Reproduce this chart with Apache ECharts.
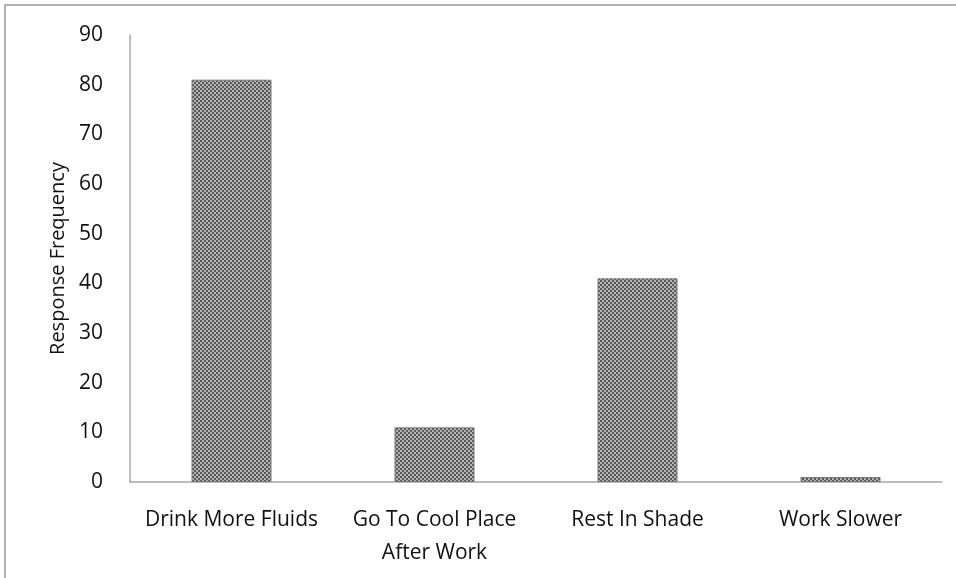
<!DOCTYPE html>
<html>
<head>
<meta charset="utf-8">
<script src="https://cdn.jsdelivr.net/npm/echarts@6/dist/echarts.min.js"></script>
<style>html,body{margin:0;background:#fff}#chart{width:956px;height:578px}</style>
</head>
<body>
<div id="chart"></div>
<script>
const categories = ['Drink More Fluids', 'Go To Cool Place\nAfter Work', 'Rest In Shade', 'Work Slower']
const values = [81, 11, 41, 1]

// checker pattern for the bars
const pat = document.createElement('canvas')
pat.width = 4
pat.height = 4
const ctx = pat.getContext('2d')
ctx.fillStyle = '#b4b4b4'
ctx.fillRect(0, 0, 4, 4)
ctx.fillStyle = '#5a5a5a'
ctx.fillRect(0, 0, 2, 2)
ctx.fillRect(2, 2, 2, 2)

const chart = echarts.init(document.getElementById('chart'))
chart.setOption({
  animation: false,
  textStyle: {fontFamily: 'Open Sans'},
  graphic: [{
    type: 'rect',
    shape: {x: 5, y: 5, width: 1000, height: 1000},
    style: {fill: 'none', stroke: '#999', lineWidth: 1.5}
  }],
  grid: {left: 130, right: 14, top: 35, bottom: 96},
  xAxis: {
    type: 'category',
    data: categories,
    axisLine: {lineStyle: {color: '#a6a6a6', width: 1.5}},
    axisTick: {show: false},
    axisLabel: {color: '#111', fontSize: 21, margin: 22, lineHeight: 33, interval: 0}
  },
  yAxis: {
    type: 'value',
    min: 0,
    max: 90,
    interval: 10,
    name: 'Response Frequency',
    nameLocation: 'middle',
    nameGap: 58,
    nameTextStyle: {color: '#111', fontSize: 20},
    axisLine: {show: true, lineStyle: {color: '#a6a6a6', width: 1.5}},
    axisTick: {show: false},
    splitLine: {show: false},
    axisLabel: {color: '#111', fontSize: 21, margin: 27}
  },
  series: [{
    type: 'bar',
    data: values,
    barWidth: 80,
    itemStyle: {color: {image: pat, repeat: 'repeat'}, borderColor: '#777', borderWidth: 1}
  }]
})
</script>
</body>
</html>
